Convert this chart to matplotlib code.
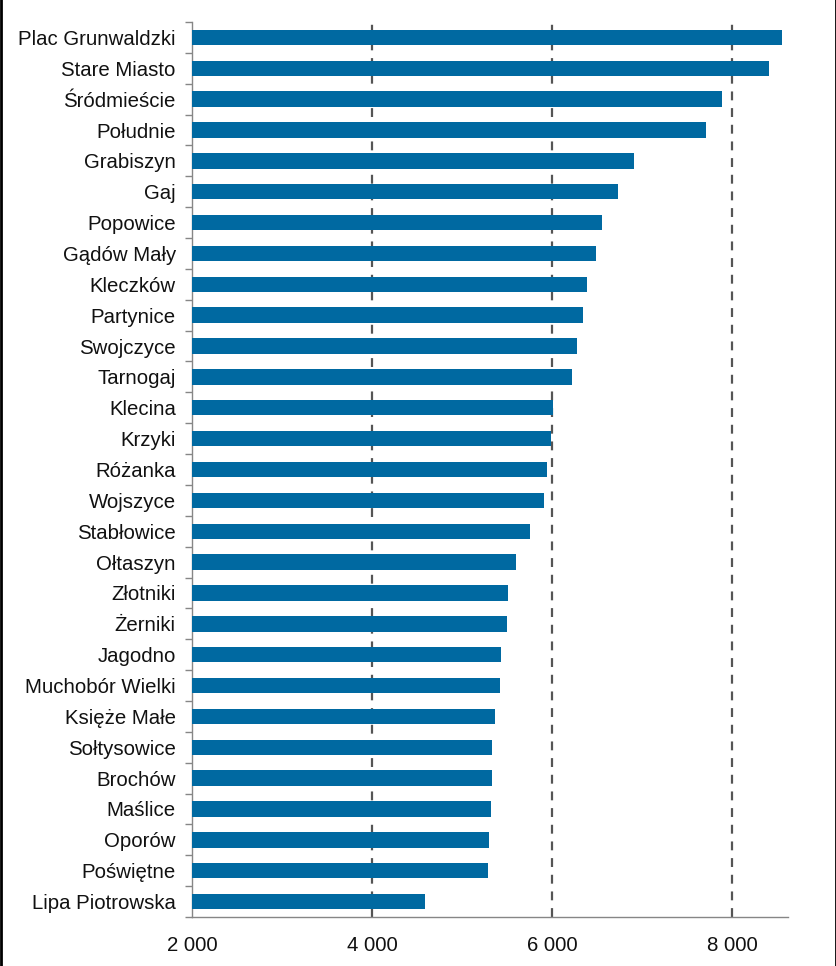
import numpy as np
import matplotlib.pyplot as plt
from matplotlib.ticker import FuncFormatter, FixedLocator
from matplotlib.lines import Line2D

# districts, top to bottom
districts = ['Plac Grunwaldzki', 'Stare Miasto', 'Śródmieście', 'Południe', 'Grabiszyn',
             'Gaj', 'Popowice', 'Gądów Mały', 'Kleczków', 'Partynice', 'Swojczyce',
             'Tarnogaj', 'Klecina', 'Krzyki', 'Różanka', 'Wojszyce', 'Stabłowice',
             'Ołtaszyn', 'Złotniki', 'Żerniki', 'Jagodno', 'Muchobór Wielki',
             'Księże Małe', 'Sołtysowice', 'Brochów', 'Maślice', 'Oporów',
             'Poświętne', 'Lipa Piotrowska']
values = [8556, 8411, 7889, 7711, 6911, 6733, 6556, 6489, 6389, 6344, 6278,
          6222, 6011, 5989, 5944, 5911, 5756, 5600, 5511, 5500, 5433, 5422,
          5367, 5333, 5333, 5322, 5300, 5289, 4589]
x_ticks = [2000, 4000, 6000, 8000]

plt.rcParams['font.family'] = ['Liberation Sans', 'DejaVu Sans']

W, H = 837, 966
fig = plt.figure(figsize=(W / 100, H / 100), dpi=100)
ax = fig.add_axes([192.5 / W, 1 - 917 / H, (788 - 192.5) / W, (917 - 22) / H])

n = len(districts)
y = np.arange(n)[::-1]
ax.barh(y, values, height=0.5, color='#0069A1', zorder=3, left=0)
ax.set_xlim(2000, 8620)
ax.set_ylim(-0.5, n - 0.5)

for t in x_ticks[1:]:
    ax.axvline(t, color='#555555', linestyle=(0, (4, 3.5)), linewidth=1.6, zorder=2)

ax.set_yticks(y)
ax.set_yticklabels(districts, fontsize=14.7, color='#111111')
ax.yaxis.set_minor_locator(FixedLocator(np.arange(-0.5, n, 1)))
ax.tick_params(axis='y', which='major', length=0, pad=12)
ax.tick_params(axis='y', which='minor', length=5, color='#868686', width=1)

ax.set_xticks(x_ticks)
ax.xaxis.set_major_formatter(FuncFormatter(lambda v, p: f'{int(v):,}'.replace(',', ' ')))
ax.tick_params(axis='x', length=0, labelsize=14.7, labelcolor='#111111', pad=14)

for s in ['top', 'right']:
    ax.spines[s].set_visible(False)
for s in ['left', 'bottom']:
    ax.spines[s].set_color('#868686')
    ax.spines[s].set_linewidth(1)

# black side edges of the image
for xe in (1 / W, 1 - 1 / W):
    fig.add_artist(Line2D([xe, xe], [0, 1], transform=fig.transFigure,
                          color='black', linewidth=2))

fig.savefig('out.png', dpi=100)
